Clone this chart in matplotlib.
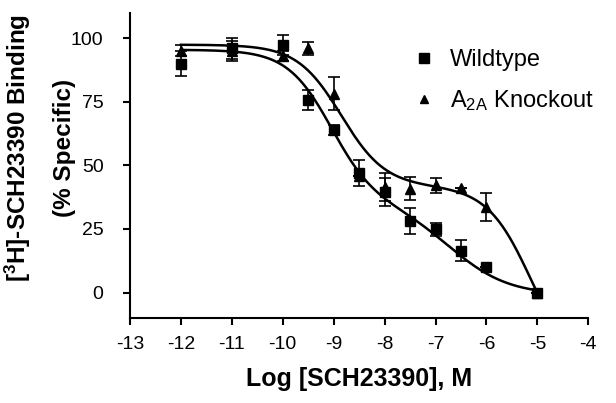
import numpy as np
import matplotlib
matplotlib.use("Agg")
import matplotlib.pyplot as plt
from matplotlib.lines import Line2D

plt.rcParams['font.family'] = ['Liberation Sans', 'DejaVu Sans']
plt.rcParams['mathtext.fontset'] = 'custom'
plt.rcParams['mathtext.rm'] = 'Liberation Sans'
plt.rcParams['mathtext.it'] = 'Liberation Sans'
plt.rcParams['mathtext.bf'] = 'Liberation Sans:bold'

# Data
wt_x = [-12, -11, -10, -9.5, -9, -8.5, -8, -7.5, -7, -6.5, -6, -5]
wt_y = [90, 96, 97.4, 75.8, 64, 47, 39.6, 28.1, 24.9, 16.5, 10.2, 0]
wt_err = [5, 4, 4, 4, 2, 5, 5.5, 5, 2.5, 4, 0, 0]

ko_x = [-12, -11, -10, -9.5, -9, -8.5, -8, -7.5, -7, -6.5, -6, -5]
ko_y = [95.2, 95, 93, 96, 78.2, 46, 41.6, 40.9, 42.2, 41.3, 33.7, 0]
ko_err = [2, 4, 2, 2.5, 6.5, 0, 5.5, 4.5, 3, 0, 5.5, 0]

# Two-site competition fit parameters (top, bottom, fraction high, logIC50 hi, logIC50 lo, slope lo)
wt_fit = dict(top=95.5, bottom=-1.0, frac=0.62, ic1=-9.05, ic2=-6.7, n2=0.75)
ko_fit = dict(top=97.5, bottom=-32.0, frac=0.43, ic1=-8.85, ic2=-5.12, n2=1.0)

x_ticks = [-13, -12, -11, -10, -9, -8, -7, -6, -5, -4]
y_ticks = [0, 25, 50, 75, 100]


def two_site(x, top, bottom, frac, ic1, ic2, n2):
    s1 = 1.0 / (1.0 + 10 ** (x - ic1))
    s2 = 1.0 / (1.0 + 10 ** (n2 * (x - ic2)))
    return bottom + (top - bottom) * (frac * s1 + (1 - frac) * s2)


W, H = 616, 403
fig = plt.figure(figsize=(W / 100, H / 100), dpi=100)
ax = fig.add_axes([0.211, 0.211, 0.744, 0.757])

xx = np.linspace(-12, -5, 400)
ax.plot(xx, two_site(xx, **wt_fit), color='black', lw=1.8, zorder=2)
ax.plot(xx, two_site(xx, **ko_fit), color='black', lw=1.8, zorder=2)

ax.errorbar(ko_x, ko_y, yerr=ko_err, fmt='^', color='black', ms=7,
            capsize=4, elinewidth=1.2, capthick=1.2, zorder=3)
ax.errorbar(wt_x, wt_y, yerr=wt_err, fmt='s', color='black', ms=7,
            capsize=4, elinewidth=1.2, capthick=1.2, zorder=4)

ax.set_xlim(-13, -4)
ax.set_ylim(-10, 110)
ax.set_xticks(x_ticks)
ax.set_yticks(y_ticks)
ax.set_xticklabels([str(t) for t in x_ticks])
for s in ['top', 'right']:
    ax.spines[s].set_visible(False)
for s in ['left', 'bottom']:
    ax.spines[s].set_linewidth(1.5)
ax.tick_params(direction='out', length=5, width=1.5, labelsize=14)
ax.tick_params(axis='x', pad=8)
ax.tick_params(axis='y', pad=14)

ax.set_xlabel('Log [SCH23390], M', fontsize=18, fontweight='bold', labelpad=10)

# y-axis label as two lines
fig.text(18 / W, 1 - 148 / H, '[$^{\\mathbf{3}}$H]-SCH23390 Binding', rotation=90,
         ha='center', va='center', fontsize=17.5, fontweight='bold')
fig.text(64 / W, 1 - 148 / H, '(% Specific)', rotation=90,
         ha='center', va='center', fontsize=17.5, fontweight='bold')

handles = [Line2D([], [], marker='s', ls='none', color='black', ms=7),
           Line2D([], [], marker='^', ls='none', color='black', ms=6)]
ax.legend(handles, ['Wildtype', 'A$_{\\mathrm{2A}}$ Knockout'], loc='upper left',
          bbox_to_anchor=(0.565, 0.95), frameon=False, fontsize=17,
          labelspacing=0.7, handletextpad=0.5, handlelength=1.2)

fig.savefig('out.png', dpi=100)
